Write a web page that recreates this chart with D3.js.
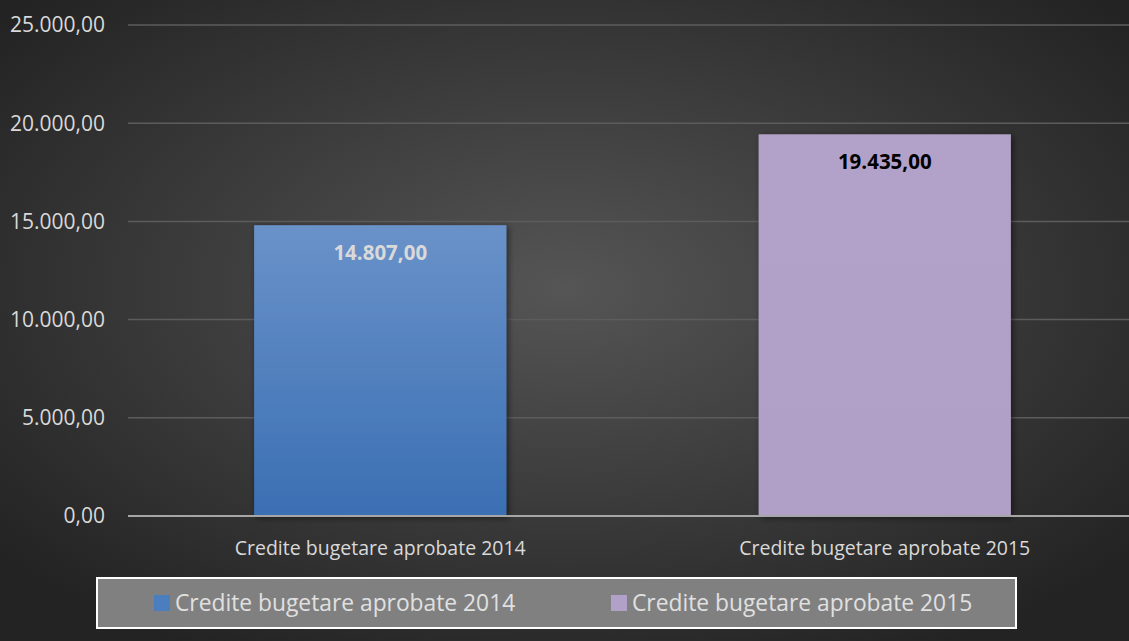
<!DOCTYPE html>
<html><head><meta charset="utf-8">
<script src="https://cdn.jsdelivr.net/npm/d3@7"></script>
<style>html,body{margin:0;padding:0;background:#333;}svg{display:block;}</style>
</head><body>
<svg id="chart" width="1129" height="641"></svg>
<script>
const categories = ["Credite bugetare aprobate 2014", "Credite bugetare aprobate 2015"];
const values = [14807, 19435];
const seriesNames = ["Credite bugetare aprobate 2014", "Credite bugetare aprobate 2015"];
const tickValues = [0, 5000, 10000, 15000, 20000, 25000];

const W = 1129, H = 641;
const svg = d3.select("#chart");
const defs = svg.append("defs");
const bg = defs.append("radialGradient").attr("id","bg").attr("cx","50%").attr("cy","45%").attr("r","65%");
bg.append("stop").attr("offset","0%").attr("stop-color","#555555");
bg.append("stop").attr("offset","100%").attr("stop-color","#232323");
const g1 = defs.append("linearGradient").attr("id","b1").attr("x1",0).attr("y1",0).attr("x2",0).attr("y2",1);
g1.append("stop").attr("offset","0%").attr("stop-color","#6a92c9");
g1.append("stop").attr("offset","100%").attr("stop-color","#3a6fb3");
const g2 = defs.append("linearGradient").attr("id","b2").attr("x1",0).attr("y1",0).attr("x2",0).attr("y2",1);
g2.append("stop").attr("offset","0%").attr("stop-color","#b2a1c8");
g2.append("stop").attr("offset","100%").attr("stop-color","#b09fc6");
const sh = defs.append("filter").attr("id","sh").attr("x","-10%").attr("y","-10%").attr("width","130%").attr("height","130%");
sh.append("feDropShadow").attr("dx",2).attr("dy",2).attr("stdDeviation",3).attr("flood-color","#000").attr("flood-opacity",0.5);

svg.append("rect").attr("width",W).attr("height",H).attr("fill","url(#bg)");

const x = d3.scaleBand().domain(categories).range([128, 1137]).paddingInner(0.5).paddingOuter(0.25);
const y = d3.scaleLinear().domain([0, 25000]).range([516, 25]);
const fmt = v => d3.format(",.2f")(v).replace(/,/g,"#").replace(".",",").replace(/#/g,".");

const font = "'Open Sans', 'Noto Sans', sans-serif";

// gridlines
svg.append("g").selectAll("line").data(tickValues.filter(d=>d>0)).join("line")
  .attr("x1",128).attr("x2",W).attr("y1",d=>y(d)).attr("y2",d=>y(d))
  .attr("stroke","#5c5c5c").attr("stroke-width",1.5);

// y labels
svg.append("g").selectAll("text").data(tickValues).join("text")
  .attr("x",105).attr("y",d=>y(d)).attr("dy","0.35em").attr("text-anchor","end")
  .attr("fill","#d9d9d9").attr("font-family",font).attr("font-size",21).text(d=>fmt(d));

// bars
const fills = ["url(#b1)","url(#b2)"];
svg.append("g").selectAll("rect").data(values).join("rect")
  .attr("x",(d,i)=>x(categories[i])).attr("width",x.bandwidth())
  .attr("y",d=>y(d)).attr("height",d=>y(0)-y(d))
  .attr("fill",(d,i)=>fills[i]).attr("filter","url(#sh)");

// axis line
svg.append("line").attr("x1",128).attr("x2",W).attr("y1",y(0)).attr("y2",y(0))
  .attr("stroke","#a6a6a6").attr("stroke-width",2);

// value labels
const labCol = ["#d9d9d9","#000000"];
svg.append("g").selectAll("text").data(values).join("text")
  .attr("x",(d,i)=>x(categories[i])+x.bandwidth()/2).attr("y",d=>y(d)+28).attr("dy","0.35em")
  .attr("text-anchor","middle").attr("font-weight","bold").attr("font-family",font).attr("font-size",20.5)
  .attr("fill",(d,i)=>labCol[i]).text(d=>fmt(d));

// category labels
svg.append("g").selectAll("text").data(categories).join("text")
  .attr("x",d=>x(d)+x.bandwidth()/2).attr("y",548).attr("dy","0.35em").attr("text-anchor","middle")
  .attr("fill","#d9d9d9").attr("font-family",font).attr("font-size",19.5).text(d=>d);

// legend
const lg = svg.append("g");
lg.append("rect").attr("x",97).attr("y",578).attr("width",919).attr("height",50)
  .attr("fill","#808080").attr("stroke","#ffffff").attr("stroke-width",2);
const swCols = ["#4a7ebf","#b1a0c7"];
const lx = [154, 611];
seriesNames.forEach((s,i)=>{
  lg.append("rect").attr("x",lx[i]).attr("y",595).attr("width",16).attr("height",16).attr("fill",swCols[i]);
  lg.append("text").attr("x",lx[i]+21).attr("y",603).attr("dy","0.35em")
    .attr("fill","#e0e0e0").attr("font-family",font).attr("font-size",22.8).text(s);
});
</script>
</body></html>
